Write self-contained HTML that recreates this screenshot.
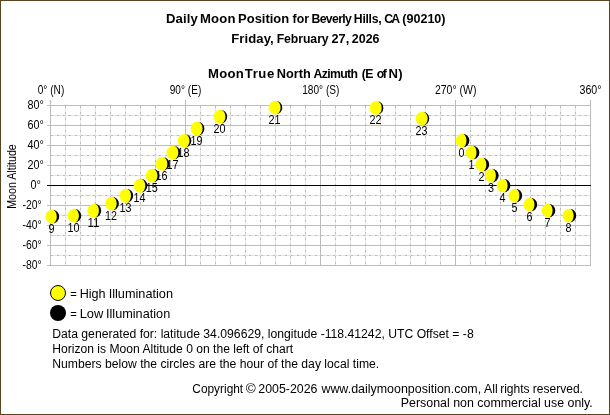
<!DOCTYPE html>
<html><head><meta charset="utf-8"><title>Daily Moon Position</title>
<style>html,body{margin:0;padding:0;background:#fff;overflow:hidden}svg{display:block;will-change:transform}text{font-family:"Liberation Sans",sans-serif;fill:#000}</style>
</head><body>
<svg width="610" height="415" viewBox="0 0 610 415">
<rect x="0" y="0" width="610" height="415" fill="#fff"/>
<rect x="0.5" y="0.5" width="609" height="414" fill="none" stroke="#5b4521" stroke-width="1" shape-rendering="crispEdges"/>
<g shape-rendering="crispEdges"><line x1="65.5" y1="106" x2="65.5" y2="265" stroke="#e4e4e4"/><line x1="65.5" y1="106" x2="65.5" y2="265" stroke="#bcbcbc" stroke-dasharray="2 4" stroke-dashoffset="0"/><line x1="80.5" y1="106" x2="80.5" y2="265" stroke="#e4e4e4"/><line x1="80.5" y1="106" x2="80.5" y2="265" stroke="#bcbcbc" stroke-dasharray="2 4" stroke-dashoffset="0"/><line x1="95.5" y1="106" x2="95.5" y2="265" stroke="#e4e4e4"/><line x1="95.5" y1="106" x2="95.5" y2="265" stroke="#bcbcbc" stroke-dasharray="2 4" stroke-dashoffset="0"/><line x1="110.5" y1="106" x2="110.5" y2="265" stroke="#e4e4e4"/><line x1="110.5" y1="106" x2="110.5" y2="265" stroke="#bcbcbc" stroke-dasharray="2 4" stroke-dashoffset="0"/><line x1="125.5" y1="106" x2="125.5" y2="265" stroke="#e4e4e4"/><line x1="125.5" y1="106" x2="125.5" y2="265" stroke="#bcbcbc" stroke-dasharray="2 4" stroke-dashoffset="0"/><line x1="140.5" y1="106" x2="140.5" y2="265" stroke="#e4e4e4"/><line x1="140.5" y1="106" x2="140.5" y2="265" stroke="#bcbcbc" stroke-dasharray="2 4" stroke-dashoffset="0"/><line x1="155.5" y1="106" x2="155.5" y2="265" stroke="#e4e4e4"/><line x1="155.5" y1="106" x2="155.5" y2="265" stroke="#bcbcbc" stroke-dasharray="2 4" stroke-dashoffset="0"/><line x1="170.5" y1="106" x2="170.5" y2="265" stroke="#e4e4e4"/><line x1="170.5" y1="106" x2="170.5" y2="265" stroke="#bcbcbc" stroke-dasharray="2 4" stroke-dashoffset="0"/><line x1="200.5" y1="106" x2="200.5" y2="265" stroke="#e4e4e4"/><line x1="200.5" y1="106" x2="200.5" y2="265" stroke="#bcbcbc" stroke-dasharray="2 4" stroke-dashoffset="0"/><line x1="215.5" y1="106" x2="215.5" y2="265" stroke="#e4e4e4"/><line x1="215.5" y1="106" x2="215.5" y2="265" stroke="#bcbcbc" stroke-dasharray="2 4" stroke-dashoffset="0"/><line x1="230.5" y1="106" x2="230.5" y2="265" stroke="#e4e4e4"/><line x1="230.5" y1="106" x2="230.5" y2="265" stroke="#bcbcbc" stroke-dasharray="2 4" stroke-dashoffset="0"/><line x1="245.5" y1="106" x2="245.5" y2="265" stroke="#e4e4e4"/><line x1="245.5" y1="106" x2="245.5" y2="265" stroke="#bcbcbc" stroke-dasharray="2 4" stroke-dashoffset="0"/><line x1="260.5" y1="106" x2="260.5" y2="265" stroke="#e4e4e4"/><line x1="260.5" y1="106" x2="260.5" y2="265" stroke="#bcbcbc" stroke-dasharray="2 4" stroke-dashoffset="0"/><line x1="275.5" y1="106" x2="275.5" y2="265" stroke="#e4e4e4"/><line x1="275.5" y1="106" x2="275.5" y2="265" stroke="#bcbcbc" stroke-dasharray="2 4" stroke-dashoffset="0"/><line x1="290.5" y1="106" x2="290.5" y2="265" stroke="#e4e4e4"/><line x1="290.5" y1="106" x2="290.5" y2="265" stroke="#bcbcbc" stroke-dasharray="2 4" stroke-dashoffset="0"/><line x1="305.5" y1="106" x2="305.5" y2="265" stroke="#e4e4e4"/><line x1="305.5" y1="106" x2="305.5" y2="265" stroke="#bcbcbc" stroke-dasharray="2 4" stroke-dashoffset="0"/><line x1="335.5" y1="106" x2="335.5" y2="265" stroke="#e4e4e4"/><line x1="335.5" y1="106" x2="335.5" y2="265" stroke="#bcbcbc" stroke-dasharray="2 4" stroke-dashoffset="0"/><line x1="350.5" y1="106" x2="350.5" y2="265" stroke="#e4e4e4"/><line x1="350.5" y1="106" x2="350.5" y2="265" stroke="#bcbcbc" stroke-dasharray="2 4" stroke-dashoffset="0"/><line x1="365.5" y1="106" x2="365.5" y2="265" stroke="#e4e4e4"/><line x1="365.5" y1="106" x2="365.5" y2="265" stroke="#bcbcbc" stroke-dasharray="2 4" stroke-dashoffset="0"/><line x1="380.5" y1="106" x2="380.5" y2="265" stroke="#e4e4e4"/><line x1="380.5" y1="106" x2="380.5" y2="265" stroke="#bcbcbc" stroke-dasharray="2 4" stroke-dashoffset="0"/><line x1="395.5" y1="106" x2="395.5" y2="265" stroke="#e4e4e4"/><line x1="395.5" y1="106" x2="395.5" y2="265" stroke="#bcbcbc" stroke-dasharray="2 4" stroke-dashoffset="0"/><line x1="410.5" y1="106" x2="410.5" y2="265" stroke="#e4e4e4"/><line x1="410.5" y1="106" x2="410.5" y2="265" stroke="#bcbcbc" stroke-dasharray="2 4" stroke-dashoffset="0"/><line x1="425.5" y1="106" x2="425.5" y2="265" stroke="#e4e4e4"/><line x1="425.5" y1="106" x2="425.5" y2="265" stroke="#bcbcbc" stroke-dasharray="2 4" stroke-dashoffset="0"/><line x1="440.5" y1="106" x2="440.5" y2="265" stroke="#e4e4e4"/><line x1="440.5" y1="106" x2="440.5" y2="265" stroke="#bcbcbc" stroke-dasharray="2 4" stroke-dashoffset="0"/><line x1="470.5" y1="106" x2="470.5" y2="265" stroke="#e4e4e4"/><line x1="470.5" y1="106" x2="470.5" y2="265" stroke="#bcbcbc" stroke-dasharray="2 4" stroke-dashoffset="0"/><line x1="485.5" y1="106" x2="485.5" y2="265" stroke="#e4e4e4"/><line x1="485.5" y1="106" x2="485.5" y2="265" stroke="#bcbcbc" stroke-dasharray="2 4" stroke-dashoffset="0"/><line x1="500.5" y1="106" x2="500.5" y2="265" stroke="#e4e4e4"/><line x1="500.5" y1="106" x2="500.5" y2="265" stroke="#bcbcbc" stroke-dasharray="2 4" stroke-dashoffset="0"/><line x1="515.5" y1="106" x2="515.5" y2="265" stroke="#e4e4e4"/><line x1="515.5" y1="106" x2="515.5" y2="265" stroke="#bcbcbc" stroke-dasharray="2 4" stroke-dashoffset="0"/><line x1="530.5" y1="106" x2="530.5" y2="265" stroke="#e4e4e4"/><line x1="530.5" y1="106" x2="530.5" y2="265" stroke="#bcbcbc" stroke-dasharray="2 4" stroke-dashoffset="0"/><line x1="545.5" y1="106" x2="545.5" y2="265" stroke="#e4e4e4"/><line x1="545.5" y1="106" x2="545.5" y2="265" stroke="#bcbcbc" stroke-dasharray="2 4" stroke-dashoffset="0"/><line x1="560.5" y1="106" x2="560.5" y2="265" stroke="#e4e4e4"/><line x1="560.5" y1="106" x2="560.5" y2="265" stroke="#bcbcbc" stroke-dasharray="2 4" stroke-dashoffset="0"/><line x1="575.5" y1="106" x2="575.5" y2="265" stroke="#e4e4e4"/><line x1="575.5" y1="106" x2="575.5" y2="265" stroke="#bcbcbc" stroke-dasharray="2 4" stroke-dashoffset="0"/><line x1="51" y1="115.5" x2="590" y2="115.5" stroke="#e4e4e4"/><line x1="51" y1="115.5" x2="590" y2="115.5" stroke="#bcbcbc" stroke-dasharray="2 4" stroke-dashoffset="0"/><line x1="51" y1="135.5" x2="590" y2="135.5" stroke="#e4e4e4"/><line x1="51" y1="135.5" x2="590" y2="135.5" stroke="#bcbcbc" stroke-dasharray="2 4" stroke-dashoffset="0"/><line x1="51" y1="155.5" x2="590" y2="155.5" stroke="#e4e4e4"/><line x1="51" y1="155.5" x2="590" y2="155.5" stroke="#bcbcbc" stroke-dasharray="2 4" stroke-dashoffset="0"/><line x1="51" y1="175.5" x2="590" y2="175.5" stroke="#e4e4e4"/><line x1="51" y1="175.5" x2="590" y2="175.5" stroke="#bcbcbc" stroke-dasharray="2 4" stroke-dashoffset="0"/><line x1="51" y1="195.5" x2="590" y2="195.5" stroke="#e4e4e4"/><line x1="51" y1="195.5" x2="590" y2="195.5" stroke="#bcbcbc" stroke-dasharray="2 4" stroke-dashoffset="0"/><line x1="51" y1="215.5" x2="590" y2="215.5" stroke="#e4e4e4"/><line x1="51" y1="215.5" x2="590" y2="215.5" stroke="#bcbcbc" stroke-dasharray="2 4" stroke-dashoffset="0"/><line x1="51" y1="235.5" x2="590" y2="235.5" stroke="#e4e4e4"/><line x1="51" y1="235.5" x2="590" y2="235.5" stroke="#bcbcbc" stroke-dasharray="2 4" stroke-dashoffset="0"/><line x1="51" y1="255.5" x2="590" y2="255.5" stroke="#e4e4e4"/><line x1="51" y1="255.5" x2="590" y2="255.5" stroke="#bcbcbc" stroke-dasharray="2 4" stroke-dashoffset="0"/><line x1="47" y1="105.5" x2="591" y2="105.5" stroke="#bcbcbc"/><line x1="47" y1="125.5" x2="591" y2="125.5" stroke="#bcbcbc"/><line x1="47" y1="145.5" x2="591" y2="145.5" stroke="#bcbcbc"/><line x1="47" y1="165.5" x2="591" y2="165.5" stroke="#bcbcbc"/><line x1="47" y1="205.5" x2="591" y2="205.5" stroke="#bcbcbc"/><line x1="47" y1="225.5" x2="591" y2="225.5" stroke="#bcbcbc"/><line x1="47" y1="245.5" x2="591" y2="245.5" stroke="#bcbcbc"/><line x1="47" y1="265.5" x2="591" y2="265.5" stroke="#bcbcbc"/><line x1="50.5" y1="100" x2="50.5" y2="266" stroke="#bcbcbc"/><line x1="185.5" y1="100" x2="185.5" y2="266" stroke="#bcbcbc"/><line x1="320.5" y1="100" x2="320.5" y2="266" stroke="#bcbcbc"/><line x1="455.5" y1="100" x2="455.5" y2="266" stroke="#bcbcbc"/><line x1="590.5" y1="100" x2="590.5" y2="266" stroke="#bcbcbc"/><line x1="47" y1="185.5" x2="591" y2="185.5" stroke="#000"/></g>
<text transform="translate(165.98,23) scale(1.0500,1)" font-size="12.5" font-weight="bold" letter-spacing="0.138">Daily</text>
<text transform="translate(199.88,23) scale(1.0500,1)" font-size="12.5" font-weight="bold" letter-spacing="0.252">Moon</text>
<text transform="translate(238.09,23) scale(1.0373,1)" font-size="12.5" font-weight="bold">Position</text>
<text transform="translate(292.55,23) scale(0.9846,1)" font-size="12.5" font-weight="bold">for</text>
<text transform="translate(311.54,23) scale(0.9800,1)" font-size="12.5" font-weight="bold" letter-spacing="-0.674">Beverly</text>
<text transform="translate(353.84,23) scale(0.9800,1)" font-size="12.5" font-weight="bold" letter-spacing="-0.298">Hills,</text>
<text transform="translate(384.21,23) scale(0.9800,1)" font-size="12.5" font-weight="bold" letter-spacing="-1.819">CA</text>
<text transform="translate(402.27,23) scale(1.0054,1)" font-size="12.5" font-weight="bold">(90210)</text>
<text transform="translate(231.28,43.15) scale(1.0500,1)" font-size="12.5" font-weight="bold" letter-spacing="0.064">Friday,</text>
<text transform="translate(276.64,43.15) scale(0.9800,1)" font-size="12.5" font-weight="bold" letter-spacing="-0.051">February</text>
<text transform="translate(331.52,43.15) scale(1.0171,1)" font-size="12.5" font-weight="bold">27,</text>
<text transform="translate(351.83,43.15) scale(0.9963,1)" font-size="12.5" font-weight="bold">2026</text>
<text transform="translate(207.98,78.15) scale(1.0500,1)" font-size="12.5" font-weight="bold" letter-spacing="0.284">Moon</text>
<text transform="translate(244.87,78.15) scale(1.0500,1)" font-size="12.5" font-weight="bold" letter-spacing="0.518">True</text>
<text transform="translate(276.81,78.15) scale(1.0213,1)" font-size="12.5" font-weight="bold">North</text>
<text transform="translate(313.53,78.15) scale(0.9800,1)" font-size="12.5" font-weight="bold" letter-spacing="-0.640">Azimuth</text>
<text transform="translate(361.69,78.15) scale(0.9800,1)" font-size="12.5" font-weight="bold" letter-spacing="-0.457">(E</text>
<text transform="translate(376.71,78.15) scale(0.9800,1)" font-size="12.5" font-weight="bold" letter-spacing="-1.454">of</text>
<text transform="translate(388.48,78.15) scale(1.0500,1)" font-size="12.5" font-weight="bold" letter-spacing="0.345">N)</text>
<text transform="translate(192.31,393) scale(0.9913,1)" font-size="12">Copyright</text>
<text transform="translate(245.83,393) scale(1.1310,1)" font-size="12">©</text>
<text transform="translate(258.28,393) scale(1.0323,1)" font-size="12">2005-2026</text>
<text transform="translate(321.40,393) scale(1.0379,1)" font-size="12">www.dailymoonposition.com,</text>
<text transform="translate(484.10,393) scale(1.0238,1)" font-size="12">All</text>
<text transform="translate(500.16,393) scale(1.0043,1)" font-size="12">rights</text>
<text transform="translate(532.86,393) scale(1.0017,1)" font-size="12">reserved.</text>
<text transform="translate(70.14,298) scale(0.9375,1)" font-size="12">=</text>
<text transform="translate(79.69,298) scale(1.0515,1)" font-size="12">High</text>
<text transform="translate(108.65,298) scale(1.0612,1)" font-size="12">Illumination</text>
<text transform="translate(70.14,318) scale(0.9375,1)" font-size="12">=</text>
<text transform="translate(79.67,318) scale(1.0748,1)" font-size="12">Low</text>
<text transform="translate(105.96,318) scale(1.0595,1)" font-size="12">Illumination</text>
<text x="51" y="94" font-size="12" text-anchor="middle" textLength="26.5" lengthAdjust="spacingAndGlyphs">0° (N)</text>
<text x="185.5" y="94" font-size="12" text-anchor="middle" textLength="31.5" lengthAdjust="spacingAndGlyphs">90° (E)</text>
<text x="320.8" y="94" font-size="12" text-anchor="middle" textLength="37.2" lengthAdjust="spacingAndGlyphs">180° (S)</text>
<text x="455.7" y="94" font-size="12" text-anchor="middle" textLength="41.5" lengthAdjust="spacingAndGlyphs">270° (W)</text>
<text x="590.5" y="94" font-size="12" text-anchor="middle" textLength="22" lengthAdjust="spacingAndGlyphs">360°</text>
<text x="27.4" y="109" font-size="12" textLength="16.4" lengthAdjust="spacingAndGlyphs">80°</text>
<text x="27.4" y="129" font-size="12" textLength="16.4" lengthAdjust="spacingAndGlyphs">60°</text>
<text x="27.4" y="149" font-size="12" textLength="16.4" lengthAdjust="spacingAndGlyphs">40°</text>
<text x="27.4" y="169" font-size="12" textLength="16.4" lengthAdjust="spacingAndGlyphs">20°</text>
<text x="30.4" y="189" font-size="12" textLength="10.4" lengthAdjust="spacingAndGlyphs">0°</text>
<text x="22.6" y="209" font-size="12" textLength="19.2" lengthAdjust="spacingAndGlyphs">-20°</text>
<text x="22.6" y="229" font-size="12" textLength="19.2" lengthAdjust="spacingAndGlyphs">-40°</text>
<text x="22.6" y="249" font-size="12" textLength="19.2" lengthAdjust="spacingAndGlyphs">-60°</text>
<text x="22.6" y="269" font-size="12" textLength="19.2" lengthAdjust="spacingAndGlyphs">-80°</text>
<text font-size="12" text-anchor="middle" textLength="64.5" lengthAdjust="spacingAndGlyphs" transform="translate(15.5,176.5) rotate(-90)">Moon Altitude</text>
<text x="461.6" y="156.8" font-size="12" text-anchor="middle" textLength="6.0" lengthAdjust="spacingAndGlyphs">0</text>
<text x="471.6" y="168.8" font-size="12" text-anchor="middle" textLength="6.0" lengthAdjust="spacingAndGlyphs">1</text>
<text x="481.4" y="180.8" font-size="12" text-anchor="middle" textLength="6.0" lengthAdjust="spacingAndGlyphs">2</text>
<text x="490.9" y="191.8" font-size="12" text-anchor="middle" textLength="6.0" lengthAdjust="spacingAndGlyphs">3</text>
<text x="502.6" y="201.8" font-size="12" text-anchor="middle" textLength="6.0" lengthAdjust="spacingAndGlyphs">4</text>
<text x="514.4" y="211.8" font-size="12" text-anchor="middle" textLength="6.0" lengthAdjust="spacingAndGlyphs">5</text>
<text x="529.4" y="220.8" font-size="12" text-anchor="middle" textLength="6.0" lengthAdjust="spacingAndGlyphs">6</text>
<text x="547.5" y="226.8" font-size="12" text-anchor="middle" textLength="6.0" lengthAdjust="spacingAndGlyphs">7</text>
<text x="568.5" y="231.8" font-size="12" text-anchor="middle" textLength="6.0" lengthAdjust="spacingAndGlyphs">8</text>
<text x="51.4" y="232.9" font-size="12" text-anchor="middle" textLength="6.0" lengthAdjust="spacingAndGlyphs">9</text>
<text x="73.5" y="232.0" font-size="12" text-anchor="middle" textLength="12.0" lengthAdjust="spacingAndGlyphs">10</text>
<text x="93.4" y="227.0" font-size="12" text-anchor="middle" textLength="12.0" lengthAdjust="spacingAndGlyphs">11</text>
<text x="111.1" y="219.8" font-size="12" text-anchor="middle" textLength="12.0" lengthAdjust="spacingAndGlyphs">12</text>
<text x="125.4" y="212.0" font-size="12" text-anchor="middle" textLength="12.0" lengthAdjust="spacingAndGlyphs">13</text>
<text x="139.6" y="202.0" font-size="12" text-anchor="middle" textLength="12.0" lengthAdjust="spacingAndGlyphs">14</text>
<text x="151.7" y="191.9" font-size="12" text-anchor="middle" textLength="12.0" lengthAdjust="spacingAndGlyphs">15</text>
<text x="161.6" y="180.2" font-size="12" text-anchor="middle" textLength="12.0" lengthAdjust="spacingAndGlyphs">16</text>
<text x="172.5" y="168.9" font-size="12" text-anchor="middle" textLength="12.0" lengthAdjust="spacingAndGlyphs">17</text>
<text x="183.6" y="157.1" font-size="12" text-anchor="middle" textLength="12.0" lengthAdjust="spacingAndGlyphs">18</text>
<text x="196.6" y="145.0" font-size="12" text-anchor="middle" textLength="12.0" lengthAdjust="spacingAndGlyphs">19</text>
<text x="219.4" y="133.0" font-size="12" text-anchor="middle" textLength="12.0" lengthAdjust="spacingAndGlyphs">20</text>
<text x="274.5" y="123.9" font-size="12" text-anchor="middle" textLength="12.0" lengthAdjust="spacingAndGlyphs">21</text>
<text x="375.6" y="124.2" font-size="12" text-anchor="middle" textLength="12.0" lengthAdjust="spacingAndGlyphs">22</text>
<text x="421.5" y="134.8" font-size="12" text-anchor="middle" textLength="12.0" lengthAdjust="spacingAndGlyphs">23</text>
<path d="M462.5 133.65 A6.9 6.9 0 0 0 462.5 147.45 A4.6 6.9 0 0 0 462.5 133.65Z" fill="#ffff00"/>
<path d="M462.5 133.65 A6.9 6.9 0 0 1 462.5 147.45 A4.0 6.9 0 0 0 462.5 133.65Z" fill="#000"/>
<path d="M472.5 145.65 A6.9 6.9 0 0 0 472.5 159.45 A4.63 6.9 0 0 0 472.5 145.65Z" fill="#ffff00"/>
<path d="M472.5 145.65 A6.9 6.9 0 0 1 472.5 159.45 A4.03 6.9 0 0 0 472.5 145.65Z" fill="#000"/>
<path d="M482.3 157.65 A6.9 6.9 0 0 0 482.3 171.45 A4.66 6.9 0 0 0 482.3 157.65Z" fill="#ffff00"/>
<path d="M482.3 157.65 A6.9 6.9 0 0 1 482.3 171.45 A4.06 6.9 0 0 0 482.3 157.65Z" fill="#000"/>
<path d="M491.8 168.65 A6.9 6.9 0 0 0 491.8 182.45 A4.69 6.9 0 0 0 491.8 168.65Z" fill="#ffff00"/>
<path d="M491.8 168.65 A6.9 6.9 0 0 1 491.8 182.45 A4.09 6.9 0 0 0 491.8 168.65Z" fill="#000"/>
<path d="M503.5 178.65 A6.9 6.9 0 0 0 503.5 192.45 A4.72 6.9 0 0 0 503.5 178.65Z" fill="#ffff00"/>
<path d="M503.5 178.65 A6.9 6.9 0 0 1 503.5 192.45 A4.12 6.9 0 0 0 503.5 178.65Z" fill="#000"/>
<path d="M515.3 188.65 A6.9 6.9 0 0 0 515.3 202.45 A4.75 6.9 0 0 0 515.3 188.65Z" fill="#ffff00"/>
<path d="M515.3 188.65 A6.9 6.9 0 0 1 515.3 202.45 A4.15 6.9 0 0 0 515.3 188.65Z" fill="#000"/>
<path d="M530.3 197.65 A6.9 6.9 0 0 0 530.3 211.45 A4.78 6.9 0 0 0 530.3 197.65Z" fill="#ffff00"/>
<path d="M530.3 197.65 A6.9 6.9 0 0 1 530.3 211.45 A4.18 6.9 0 0 0 530.3 197.65Z" fill="#000"/>
<path d="M548.4 203.65 A6.9 6.9 0 0 0 548.4 217.45 A4.81 6.9 0 0 0 548.4 203.65Z" fill="#ffff00"/>
<path d="M548.4 203.65 A6.9 6.9 0 0 1 548.4 217.45 A4.21 6.9 0 0 0 548.4 203.65Z" fill="#000"/>
<path d="M569.4 208.65 A6.9 6.9 0 0 0 569.4 222.45 A4.84 6.9 0 0 0 569.4 208.65Z" fill="#ffff00"/>
<path d="M569.4 208.65 A6.9 6.9 0 0 1 569.4 222.45 A4.24 6.9 0 0 0 569.4 208.65Z" fill="#000"/>
<path d="M52.3 209.75 A6.9 6.9 0 0 0 52.3 223.55 A5.1 6.9 0 0 0 52.3 209.75Z" fill="#ffff00"/>
<path d="M52.3 209.75 A6.9 6.9 0 0 1 52.3 223.55 A4.5 6.9 0 0 0 52.3 209.75Z" fill="#000"/>
<path d="M74.4 208.85 A6.9 6.9 0 0 0 74.4 222.65 A5.16 6.9 0 0 0 74.4 208.85Z" fill="#ffff00"/>
<path d="M74.4 208.85 A6.9 6.9 0 0 1 74.4 222.65 A4.56 6.9 0 0 0 74.4 208.85Z" fill="#000"/>
<path d="M94.3 203.85 A6.9 6.9 0 0 0 94.3 217.65 A5.22 6.9 0 0 0 94.3 203.85Z" fill="#ffff00"/>
<path d="M94.3 203.85 A6.9 6.9 0 0 1 94.3 217.65 A4.62 6.9 0 0 0 94.3 203.85Z" fill="#000"/>
<path d="M112 196.65 A6.9 6.9 0 0 0 112 210.45 A5.28 6.9 0 0 0 112 196.65Z" fill="#ffff00"/>
<path d="M112 196.65 A6.9 6.9 0 0 1 112 210.45 A4.68 6.9 0 0 0 112 196.65Z" fill="#000"/>
<path d="M126.3 188.85 A6.9 6.9 0 0 0 126.3 202.65 A5.34 6.9 0 0 0 126.3 188.85Z" fill="#ffff00"/>
<path d="M126.3 188.85 A6.9 6.9 0 0 1 126.3 202.65 A4.74 6.9 0 0 0 126.3 188.85Z" fill="#000"/>
<path d="M140.5 178.85 A6.9 6.9 0 0 0 140.5 192.65 A5.4 6.9 0 0 0 140.5 178.85Z" fill="#ffff00"/>
<path d="M140.5 178.85 A6.9 6.9 0 0 1 140.5 192.65 A4.8 6.9 0 0 0 140.5 178.85Z" fill="#000"/>
<path d="M152.6 168.75 A6.9 6.9 0 0 0 152.6 182.55 A5.46 6.9 0 0 0 152.6 168.75Z" fill="#ffff00"/>
<path d="M152.6 168.75 A6.9 6.9 0 0 1 152.6 182.55 A4.86 6.9 0 0 0 152.6 168.75Z" fill="#000"/>
<path d="M162.5 157.05 A6.9 6.9 0 0 0 162.5 170.85 A5.52 6.9 0 0 0 162.5 157.05Z" fill="#ffff00"/>
<path d="M162.5 157.05 A6.9 6.9 0 0 1 162.5 170.85 A4.92 6.9 0 0 0 162.5 157.05Z" fill="#000"/>
<path d="M173.4 145.75 A6.9 6.9 0 0 0 173.4 159.55 A5.58 6.9 0 0 0 173.4 145.75Z" fill="#ffff00"/>
<path d="M173.4 145.75 A6.9 6.9 0 0 1 173.4 159.55 A4.98 6.9 0 0 0 173.4 145.75Z" fill="#000"/>
<path d="M184.5 133.95 A6.9 6.9 0 0 0 184.5 147.75 A5.64 6.9 0 0 0 184.5 133.95Z" fill="#ffff00"/>
<path d="M184.5 133.95 A6.9 6.9 0 0 1 184.5 147.75 A5.04 6.9 0 0 0 184.5 133.95Z" fill="#000"/>
<path d="M197.5 121.85 A6.9 6.9 0 0 0 197.5 135.65 A5.7 6.9 0 0 0 197.5 121.85Z" fill="#ffff00"/>
<path d="M197.5 121.85 A6.9 6.9 0 0 1 197.5 135.65 A5.1 6.9 0 0 0 197.5 121.85Z" fill="#000"/>
<path d="M220.3 109.85 A6.9 6.9 0 0 0 220.3 123.65 A5.76 6.9 0 0 0 220.3 109.85Z" fill="#ffff00"/>
<path d="M220.3 109.85 A6.9 6.9 0 0 1 220.3 123.65 A5.16 6.9 0 0 0 220.3 109.85Z" fill="#000"/>
<path d="M275.4 100.75 A6.9 6.9 0 0 0 275.4 114.55 A5.82 6.9 0 0 0 275.4 100.75Z" fill="#ffff00"/>
<path d="M275.4 100.75 A6.9 6.9 0 0 1 275.4 114.55 A5.22 6.9 0 0 0 275.4 100.75Z" fill="#000"/>
<path d="M376.5 101.05 A6.9 6.9 0 0 0 376.5 114.85 A5.88 6.9 0 0 0 376.5 101.05Z" fill="#ffff00"/>
<path d="M376.5 101.05 A6.9 6.9 0 0 1 376.5 114.85 A5.28 6.9 0 0 0 376.5 101.05Z" fill="#000"/>
<path d="M422.4 111.65 A6.9 6.9 0 0 0 422.4 125.45 A5.94 6.9 0 0 0 422.4 111.65Z" fill="#ffff00"/>
<path d="M422.4 111.65 A6.9 6.9 0 0 1 422.4 125.45 A5.34 6.9 0 0 0 422.4 111.65Z" fill="#000"/>
<circle cx="58" cy="293" r="7.5" fill="#ffff00" stroke="#000" stroke-width="1"/>
<circle cx="58" cy="313" r="8" fill="#000"/>
<text x="52.2" y="338.2" font-size="12" textLength="421.5" lengthAdjust="spacingAndGlyphs">Data generated for: latitude 34.096629, longitude -118.41242, UTC Offset = -8</text>
<text x="52.2" y="353.2" font-size="12" textLength="241" lengthAdjust="spacingAndGlyphs">Horizon is Moon Altitude 0 on the left of chart</text>
<text x="52.2" y="367.5" font-size="12" textLength="327" lengthAdjust="spacingAndGlyphs">Numbers below the circles are the hour of the day local time.</text>
<text x="592.8" y="407" font-size="12" text-anchor="end" textLength="192" lengthAdjust="spacingAndGlyphs">Personal non commercial use only.</text>
</svg></body></html>
